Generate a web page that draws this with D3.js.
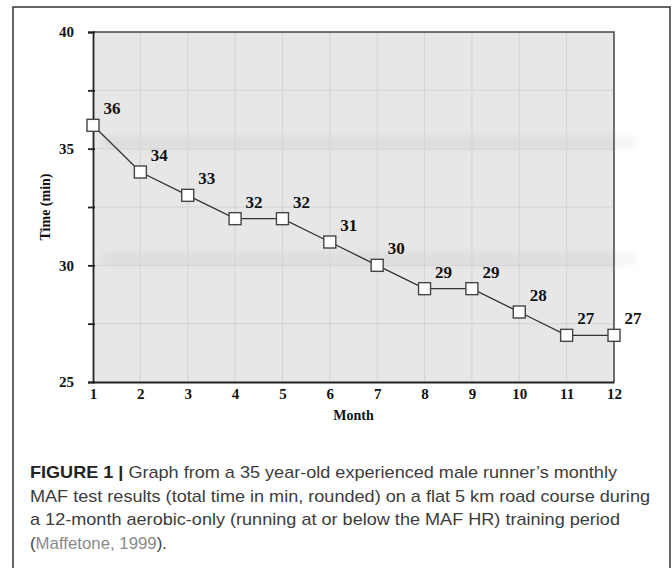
<!DOCTYPE html>
<html>
<head>
<meta charset="utf-8">
<script src="https://cdn.jsdelivr.net/npm/d3@7"></script>
<style>
  body { margin: 0; background: #fff; }
  svg { display: block; }
</style>
</head>
<body>
<div id="result"></div>
<script>
const months = [1, 2, 3, 4, 5, 6, 7, 8, 9, 10, 11, 12];
const times = [36, 34, 33, 32, 32, 31, 30, 29, 29, 28, 27, 27];
const yTicks = [25, 30, 35, 40];
const yMinorTicks = [27.5, 32.5, 37.5];
const shadowBands = [35, 30];
const captionLines = [
  [{ t: 'FIGURE 1 | ', bold: true }, { t: 'Graph from a 35 year-old experienced male runner\u2019s monthly' }],
  [{ t: 'MAF test results (total time in min, rounded) on a flat 5 km road course during' }],
  [{ t: 'a 12-month aerobic-only (running at or below the MAF HR) training period' }],
  [{ t: '(' }, { t: 'Maffetone, 1999', link: true }, { t: ').' }]
];
const captionWidths = [587, 620, 590, 137];

const width = 672, height = 568;
const plot = { left: 93, right: 614, top: 32, bottom: 382 };
const serif = '"Liberation Serif", "Times New Roman", serif';

const svg = d3.select('#result').append('svg')
  .attr('width', width)
  .attr('height', height);

const defs = svg.append('defs');
defs.append('filter').attr('id', 'blur')
  .attr('x', '-10%').attr('y', '-100%').attr('width', '120%').attr('height', '300%')
  .append('feGaussianBlur').attr('stdDeviation', 3);

// outer frame
svg.append('rect')
  .attr('x', 13).attr('y', 7)
  .attr('width', 657).attr('height', 620)
  .attr('fill', 'none')
  .attr('stroke', '#333')
  .attr('stroke-width', 1.5);

const x = d3.scaleLinear().domain([1, 12]).range([plot.left, plot.right]);
const y = d3.scaleLinear().domain([25, 40]).range([plot.bottom, plot.top]);

// plot background
svg.append('rect')
  .attr('x', plot.left).attr('y', plot.top)
  .attr('width', plot.right - plot.left)
  .attr('height', plot.bottom - plot.top)
  .attr('fill', '#e7e7e7');

// soft shadow bands
svg.append('g').selectAll('rect')
  .data(shadowBands)
  .enter().append('rect')
  .attr('x', plot.left + 8)
  .attr('y', d => y(d) - 13)
  .attr('width', plot.right - plot.left + 14)
  .attr('height', 14)
  .attr('rx', 7)
  .attr('fill', '#000')
  .attr('opacity', 0.035)
  .attr('filter', 'url(#blur)');

// grid
const grid = svg.append('g').attr('stroke', '#d4d4d4').attr('stroke-width', 1);
grid.selectAll('line.v')
  .data(months.slice(1, -1))
  .enter().append('line')
  .attr('x1', d => x(d)).attr('x2', d => x(d))
  .attr('y1', plot.top).attr('y2', plot.bottom);
grid.selectAll('line.h')
  .data(yTicks.slice(1, -1).concat(yMinorTicks))
  .enter().append('line')
  .attr('x1', plot.left).attr('x2', plot.right)
  .attr('y1', d => y(d)).attr('y2', d => y(d));

// frame lines
svg.append('path')
  .attr('d', `M${plot.left},${plot.top}H${plot.right}V${plot.bottom}`)
  .attr('fill', 'none')
  .attr('stroke', '#444')
  .attr('stroke-width', 1.5);

// y axis
const yAxis = svg.append('g')
  .attr('transform', `translate(${plot.left},0)`)
  .call(d3.axisLeft(y).tickValues(yTicks.concat(yMinorTicks)).tickSize(5).tickPadding(14)
    .tickFormat(d => yTicks.includes(d) ? d : ''));
yAxis.select('.domain').attr('stroke', '#222').attr('stroke-width', 1.8);
yAxis.selectAll('.tick line').attr('stroke', '#222').attr('stroke-width', 1.8)
  .attr('x2', -5).attr('x1', 2);
yAxis.selectAll('.tick text')
  .attr('font-family', serif)
  .attr('font-weight', 'bold')
  .attr('font-size', 15)
  .attr('fill', '#111');

// x axis
const xAxis = svg.append('g')
  .attr('transform', `translate(0,${plot.bottom})`)
  .call(d3.axisBottom(x).tickValues(months).tickSize(0).tickPadding(6).tickFormat(d3.format('d')));
xAxis.select('.domain').attr('stroke', '#222').attr('stroke-width', 1.8);
xAxis.selectAll('.tick text')
  .attr('font-family', serif)
  .attr('font-weight', 'bold')
  .attr('font-size', 15)
  .attr('fill', '#111');

// axis titles
svg.append('text')
  .attr('transform', `translate(50,${(plot.top + plot.bottom) / 2}) rotate(-90)`)
  .attr('text-anchor', 'middle')
  .attr('font-family', serif)
  .attr('font-weight', 'bold')
  .attr('font-size', 14)
  .attr('fill', '#111')
  .text('Time (min)');
svg.append('text')
  .attr('x', (plot.left + plot.right) / 2)
  .attr('y', 420)
  .attr('text-anchor', 'middle')
  .attr('font-family', serif)
  .attr('font-weight', 'bold')
  .attr('font-size', 14)
  .attr('fill', '#111')
  .text('Month');

// line
const data = months.map((m, i) => ({ m: m, t: times[i] }));
svg.append('path')
  .datum(data)
  .attr('fill', 'none')
  .attr('stroke', '#333')
  .attr('stroke-width', 1.3)
  .attr('d', d3.line().x(d => x(d.m)).y(d => y(d.t)));

// markers
svg.append('g').selectAll('rect')
  .data(data)
  .enter().append('rect')
  .attr('x', d => x(d.m) - 6)
  .attr('y', d => y(d.t) - 6)
  .attr('width', 12).attr('height', 12)
  .attr('fill', '#fff')
  .attr('stroke', '#444')
  .attr('stroke-width', 1.4);

// value labels
svg.append('g').selectAll('text')
  .data(data)
  .enter().append('text')
  .attr('x', d => x(d.m) + 19)
  .attr('y', d => y(d.t) - 11)
  .attr('text-anchor', 'middle')
  .attr('font-family', serif)
  .attr('font-weight', 'bold')
  .attr('font-size', 17)
  .attr('fill', '#111')
  .text(d => d.t);

// caption
const caption = svg.append('g')
  .attr('font-family', '"Liberation Sans", Arial, sans-serif')
  .attr('font-size', 17)
  .attr('fill', '#3c3c3c');
captionLines.forEach((line, i) => {
  const txt = caption.append('text')
    .attr('x', 30)
    .attr('y', 478 + i * 23.5)
    .attr('textLength', captionWidths[i])
    .attr('lengthAdjust', 'spacingAndGlyphs');
  line.forEach(part => {
    txt.append('tspan')
      .attr('font-weight', part.bold ? 'bold' : null)
      .attr('fill', part.bold ? '#222' : part.link ? '#8a8a8a' : null)
      .text(part.t);
  });
});
</script>
</body>
</html>
